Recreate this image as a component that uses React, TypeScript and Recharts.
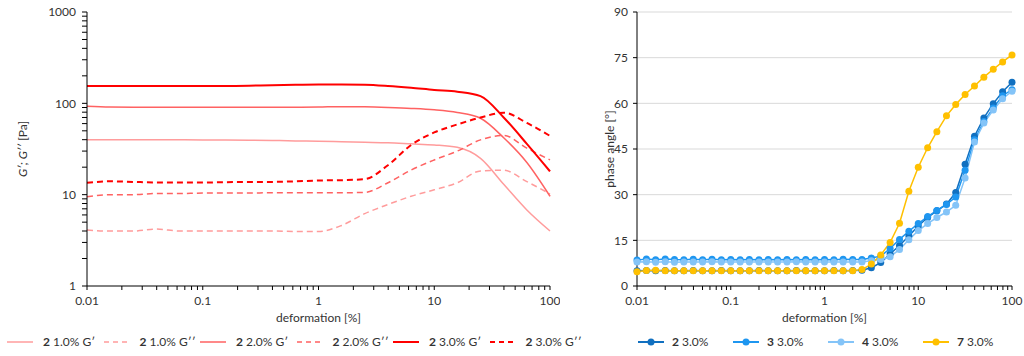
import React from "react";
import { LineChart, Line, XAxis, YAxis, CartesianGrid } from "recharts";

// left chart: G' / G'' vs deformation (log-log)
const strainMod = [0.01, 0.0158, 0.0251, 0.0398, 0.0631, 0.1, 0.158, 0.251, 0.398, 0.631, 1, 1.58, 2.51, 3.98, 6.31, 10, 15.8, 25.1, 39.8, 63.1, 100];
const g1Store = [40, 40, 40, 40, 40, 39.8, 39.6, 39.4, 39.2, 38.8, 38.5, 38, 37.5, 37, 36, 35, 33, 25, 13, 6.8, 4];
const g1Loss = [4.1, 4.0, 4.0, 4.2, 4.0, 4.0, 4.0, 4.0, 4.0, 3.95, 3.95, 4.6, 6.2, 7.8, 9.6, 11.3, 13.5, 18.2, 18.5, 13.9, 10.2];
const g2Store = [93, 91, 90.5, 90.5, 90.5, 90.5, 90.5, 90.5, 90.5, 90.5, 91, 92, 91.5, 90, 88, 85, 79.5, 68.6, 42, 22.5, 9.6];
const g2Loss = [9.5, 10, 10, 10.3, 10.3, 10.4, 10.4, 10.4, 10.5, 10.5, 10.5, 10.5, 10.6, 13.5, 18.6, 24, 30, 39.8, 44.5, 32.3, 24];
const g3Store = [155, 155, 155, 155, 155, 155, 155, 156, 158, 160, 161, 161, 160, 155, 148, 140, 134, 120, 70, 36, 18];
const g3Loss = [13.5, 14, 13.8, 13.6, 13.6, 13.6, 13.7, 13.8, 13.8, 14, 14.3, 14.4, 14.8, 21, 35, 48, 58.7, 70, 79, 61, 44];

// right chart: phase angle vs deformation
const strainPhase = [
  0.01, 0.0126, 0.0158, 0.02, 0.0251, 0.0316, 0.0398, 0.0501, 0.0631, 0.0794,
  0.1, 0.126, 0.158, 0.2, 0.251, 0.316, 0.398, 0.501, 0.631, 0.794,
  1, 1.26, 1.58, 2, 2.51, 3.16, 3.98, 5.01, 6.31, 7.94,
  10, 12.6, 15.8, 20, 25.1, 31.6, 39.8, 50.1, 63.1, 79.4, 100,
];
const phase2 = [5.0, 5.1, 5.0, 5.1, 5.0, 5.0, 5.1, 5.0, 5.0, 5.1, 5.0, 5.0, 5.0, 5.1, 5.0, 5.0, 5.0, 5.1, 5.0, 5.0, 5.0, 5.1, 5.0, 5.1, 5.2,
  6.0, 7.7, 10.5, 13.3, 16.4, 19.7, 22.5, 24.7, 26.9, 30.7, 40.0, 49.2, 55.2, 59.9, 63.8, 66.9];
const phase3 = [8.5, 8.9, 8.6, 8.9, 8.7, 8.6, 8.8, 8.6, 8.8, 8.6, 8.7, 8.6, 8.7, 8.6, 8.7, 8.6, 8.7, 8.6, 8.7, 8.6, 8.7, 8.6, 8.8, 8.7, 8.7,
  9.2, 9.8, 12.3, 15.3, 18.0, 20.5, 22.8, 24.8, 26.8, 29.2, 38.0, 48.0, 54.0, 58.5, 62.5, 64.5];
const phase4 = [7.9, 8.0, 7.8, 8.0, 7.8, 7.9, 7.9, 7.9, 8.0, 7.9, 7.9, 7.9, 7.9, 7.9, 7.9, 7.9, 7.9, 8.0, 7.9, 7.9, 7.9, 7.9, 7.9, 7.9, 7.9,
  8.3, 8.7, 9.6, 12.0, 15.2, 18.2, 20.5, 22.5, 24.3, 26.5, 35.5, 47.3, 53.5, 57.8, 61.5, 64.0];
const phase7 = [4.7, 5.1, 5.2, 5.0, 5.0, 5.0, 5.0, 5.0, 5.0, 5.0, 5.0, 5.0, 5.0, 5.0, 5.0, 5.0, 5.0, 5.0, 5.0, 5.0, 5.0, 5.0, 5.0, 5.0, 5.4,
  7.2, 10.2, 14.3, 20.6, 31.1, 39.0, 45.4, 50.7, 55.9, 59.6, 62.9, 65.7, 68.6, 71.2, 73.6, 75.9];

// ticks
const logTicksX = [0.01, 0.02, 0.03, 0.04, 0.05, 0.06, 0.07, 0.08, 0.09, 0.1, 0.2, 0.3, 0.4, 0.5, 0.6, 0.7, 0.8, 0.9,
  1, 2, 3, 4, 5, 6, 7, 8, 9, 10, 20, 30, 40, 50, 60, 70, 80, 90, 100];
const majorX = [0.01, 0.1, 1, 10, 100];
const logTicksY = [1, 2, 3, 4, 5, 6, 7, 8, 9, 10, 20, 30, 40, 50, 60, 70, 80, 90, 100, 200, 300, 400, 500, 600, 700, 800, 900, 1000];
const majorY = [1, 10, 100, 1000];
const phaseTicks = [0, 15, 30, 45, 60, 75, 90];

const modSeries = [
  { key: "g1s", id: "2", label: "1.0% G\u2032", color: "#FF9C9C", dash: undefined, w: 1.5 },
  { key: "g1l", id: "2", label: "1.0% G\u2032\u2032", color: "#FF9C9C", dash: "6 4", w: 1.5 },
  { key: "g2s", id: "2", label: "2.0% G\u2032", color: "#FF6262", dash: undefined, w: 1.5 },
  { key: "g2l", id: "2", label: "2.0% G\u2032\u2032", color: "#FF6262", dash: "6 4", w: 1.5 },
  { key: "g3s", id: "2", label: "3.0% G\u2032", color: "#FF0000", dash: undefined, w: 2 },
  { key: "g3l", id: "2", label: "3.0% G\u2032\u2032", color: "#FF0000", dash: "6 4", w: 2 },
];
const phaseSeries = [
  { key: "p2", id: "2", label: "3.0%", color: "#1170C0" },
  { key: "p3", id: "3", label: "3.0%", color: "#1E96F0" },
  { key: "p4", id: "4", label: "3.0%", color: "#84C4F8" },
  { key: "p7", id: "7", label: "3.0%", color: "#FFC000" },
];

const modData = strainMod.map((x, i) => ({
  x, g1s: g1Store[i], g1l: g1Loss[i], g2s: g2Store[i], g2l: g2Loss[i], g3s: g3Store[i], g3l: g3Loss[i],
}));
const phaseData = strainPhase.map((x, i) => ({ x, p2: phase2[i], p3: phase3[i], p4: phase4[i], p7: phase7[i] }));

const FONT = "Lato, 'Liberation Sans', sans-serif";
const tickStyle = { fontSize: 12, fill: "#333", fontFamily: FONT };

const yTitle = (dx: number, content: React.ReactNode) => (props: any) => {
  const vb = props.viewBox || { x: 0, y: 0, height: 0 };
  const cx = vb.x + dx;
  const cy = vb.y + vb.height / 2;
  return (
    <text x={cx} y={cy} transform={`rotate(-90 ${cx} ${cy})`} textAnchor="middle" dominantBaseline="central"
      fontSize={12} fill="#333" fontFamily={FONT}>
      {content}
    </text>
  );
};

const LegendItem = ({ color, dash, w, dot, id, label, width }: any) => (
  <div style={{ display: "flex", alignItems: "center", width, flex: "none" }}>
    <svg width={26} height={10}>
      <line x1={0} y1={5} x2={26} y2={5} stroke={color} strokeWidth={w} strokeDasharray={dash} />
      {dot && <circle cx={13} cy={5} r={3.5} fill={color} />}
    </svg>
    <span style={{ marginLeft: dot ? 8 : 10, whiteSpace: "nowrap" }}>
      <b>{id}</b> {label}
    </span>
  </div>
);

export default function App() {
  return (
    <div style={{ position: "absolute", left: 0, top: 0, width: 1024, height: 356, background: "#fff", fontFamily: FONT, fontSize: 12, color: "#333" }}>
      <div style={{ position: "absolute", left: 0, top: 0 }}>
        <LineChart width={560} height={330} data={modData} margin={{ top: 12, right: 10, bottom: 4, left: 0 }}>
          <XAxis dataKey="x" type="number" scale="log" domain={[0.01, 100]} ticks={logTicksX} interval={0}
            tickFormatter={(v: number) => (majorX.includes(v) ? String(v) : "")}
            height={40} tickSize={4} tickMargin={6} tick={tickStyle}
            axisLine={{ stroke: "#000" }} tickLine={{ stroke: "#000" }}
            label={{ value: "deformation [%]", position: "insideBottom", offset: 4, fill: "#333", fontSize: 12, fontFamily: FONT }} />
          <YAxis type="number" scale="log" domain={[1, 1000]} ticks={logTicksY} interval={0} allowDataOverflow
            tickFormatter={(v: number) => (majorY.includes(v) ? String(v) : "")}
            width={87} tickSize={5} tickMargin={6} tick={tickStyle}
            axisLine={{ stroke: "#000" }} tickLine={{ stroke: "#000" }}
            label={yTitle(22, <><tspan fontStyle="italic">G{"\u2032"}; G{"\u2032\u2032"}</tspan> [Pa]</>)} />
          {modSeries.map((s) => (
            <Line key={s.key} dataKey={s.key} type="monotone" stroke={s.color} strokeWidth={s.w}
              strokeDasharray={s.dash} dot={false} isAnimationActive={false} />
          ))}
        </LineChart>
      </div>
      <div style={{ position: "absolute", left: 580, top: 0 }}>
        <LineChart width={444} height={330} data={phaseData} margin={{ top: 12, right: 12, bottom: 4, left: 0 }}>
          <CartesianGrid vertical={false} stroke="#D9D9D9" />
          <XAxis dataKey="x" type="number" scale="log" domain={[0.01, 100]} ticks={logTicksX} interval={0}
            tickFormatter={(v: number) => (majorX.includes(v) ? String(v) : "")}
            height={40} tickSize={4} tickMargin={6} tick={tickStyle}
            axisLine={{ stroke: "#000" }} tickLine={{ stroke: "#000" }}
            label={{ value: "deformation [%]", position: "insideBottom", offset: 4, fill: "#333", fontSize: 12, fontFamily: FONT }} />
          <YAxis type="number" domain={[0, 90]} ticks={phaseTicks} interval={0}
            width={57} tickSize={4} tickMargin={5} tick={tickStyle}
            axisLine={{ stroke: "#000" }} tickLine={{ stroke: "#000" }}
            label={yTitle(29, "phase angle [\u00B0]")} />
          {phaseSeries.map((s) => (
            <Line key={s.key} dataKey={s.key} type="linear" stroke={s.color} strokeWidth={1.5}
              dot={{ r: 3.5, fill: s.color, stroke: s.color, strokeWidth: 0 }} isAnimationActive={false} />
          ))}
        </LineChart>
      </div>
      <div style={{ position: "absolute", left: 7, top: 334, display: "flex", fontSize: 12 }}>
        {modSeries.map((s) => (
          <LegendItem key={s.key} color={s.color} dash={s.dash ? "5 4" : undefined} w={s.w} id={s.id} label={s.label} width={96.5} />
        ))}
      </div>
      <div style={{ position: "absolute", left: 638, top: 334, display: "flex", fontSize: 12 }}>
        {phaseSeries.map((s) => (
          <LegendItem key={s.key} color={s.color} w={2} dot id={s.id} label={s.label} width={95} />
        ))}
      </div>
    </div>
  );
}
